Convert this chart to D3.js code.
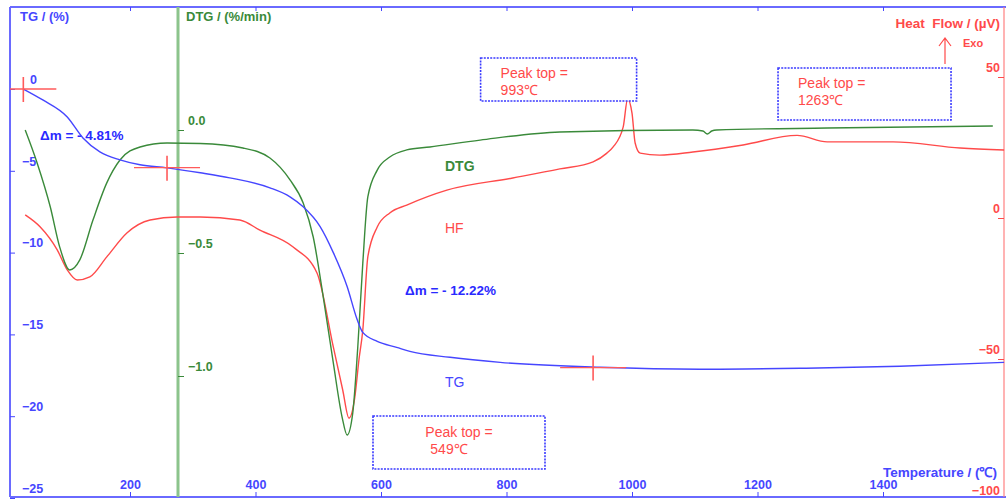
<!DOCTYPE html>
<html>
<head>
<meta charset="utf-8">
<script src="https://cdn.jsdelivr.net/npm/d3@7"></script>
<style>
  body { margin: 0; background: #fff; }
  svg { display: block; font-family: "Liberation Sans", Arial, sans-serif; }
</style>
</head>
<body>
<div id="chart"></div>
<script>
// data: [temperature degC, value]
var tgData = [
  [30, 0], [61, -0.67], [100, -1.71], [125, -2.99], [152, -3.84], [184, -4.33],
  [216, -4.63], [259, -4.82], [312, -5.12], [359, -5.43], [423, -6.04], [455, -6.59],
  [476, -7.2], [503, -8.41], [524, -10.0], [546, -12.07], [562, -14.09], [571, -14.88],
  [594, -15.43], [625, -15.79], [646, -16.04], [710, -16.4], [790, -16.71], [949, -17.01],
  [1108, -17.13], [1268, -17.07], [1427, -16.95], [1593, -16.71]
];
var dtgData = [
  [33, 0.0], [52, -0.134], [73, -0.313], [88, -0.476], [104, -0.569], [120, -0.528],
  [141, -0.366], [163, -0.215], [184, -0.122], [216, -0.069], [259, -0.053], [312, -0.055],
  [380, -0.073], [423, -0.114], [455, -0.203], [476, -0.297], [492, -0.435], [508, -0.679],
  [524, -0.947], [538, -1.167], [546, -1.24], [555, -1.15], [563, -0.882], [571, -0.541],
  [579, -0.272], [594, -0.163], [614, -0.11], [641, -0.081], [678, -0.069], [758, -0.041],
  [885, -0.008], [1097, 0.0], [1113, -0.004], [1120, -0.016], [1127, -0.004], [1135, 0.0],
  [1311, 0.008], [1575, 0.016]
];
var hfData = [
  [33, 1.1], [57, -3.2], [84, -11.3], [100, -18.4], [116, -22.0], [136, -20.9],
  [163, -13.8], [195, -5.3], [232, -0.7], [275, 0.35], [312, 0.35], [375, -0.7],
  [407, -4.3], [460, -10.3], [498, -19.5], [524, -45.7], [539, -61.0], [549, -71.0],
  [558, -64.0], [565, -50.0], [571, -39.7], [579, -13.8], [594, -3.2], [614, 1.8],
  [641, 4.6], [705, 9.9], [810, 14.2], [885, 17.4], [938, 19.9], [960, 23.0],
  [970, 25.2], [986, 32.3], [993, 42.2], [1000, 37.2], [1005, 26.6], [1013, 23.0],
  [1044, 22.3], [1097, 23.4], [1177, 25.9], [1263, 29.3], [1311, 27.0], [1416, 27.0],
  [1523, 24.8], [1593, 24.1]
];

var tempTicks = [200, 400, 600, 800, 1000, 1200, 1400];
var tgTicks = [0, -5, -10, -15, -20, -25];
var dtgTicks = [0, -0.5, -1.0];
var hfTicks = [50, 0, -50, -100];

// crosshair markers on TG curve and the mass loss labels
var tgMarks = [[30, 0], [259, -4.81], [938, -17.03]];
var massLoss = ["\u0394m = - 4.81%", "\u0394m = - 12.22%"];
var peakTemps = [549, 993, 1263];

var W = 1006, H = 500;
var leftX = 10, topY = 7, rightX = 1004, bottomY = 497;
var dtgAxisX = 178;

var blue = "#4646ff", green = "#3a8a3a", red = "#ff4a4a";

var svg = d3.select("#chart").append("svg")
  .attr("width", W).attr("height", H);

var x = d3.scaleLinear().domain([0, 1600]).range([4.5, 1008.5]);
var yTG = d3.scaleLinear().domain([0, -25]).range([89, 498]);
var yDTG = d3.scaleLinear().domain([0, -1]).range([130, 376]);
var yHF = d3.scaleLinear().domain([50, -100]).range([77, 500]);

svg.append("defs").append("clipPath").attr("id", "plot")
  .append("rect").attr("x", leftX).attr("y", topY)
  .attr("width", rightX - leftX).attr("height", bottomY - topY);

// frame
svg.append("line").attr("x1", leftX).attr("x2", W).attr("y1", topY).attr("y2", topY)
  .attr("stroke", "#6a6aff").attr("stroke-width", 2);
svg.append("line").attr("x1", leftX).attr("x2", W).attr("y1", bottomY).attr("y2", bottomY)
  .attr("stroke", "#6a6aff").attr("stroke-width", 2);
svg.append("line").attr("x1", leftX).attr("x2", leftX).attr("y1", topY).attr("y2", bottomY)
  .attr("stroke", "#6a6aff").attr("stroke-width", 2);
svg.append("line").attr("x1", rightX).attr("x2", rightX).attr("y1", topY).attr("y2", bottomY)
  .attr("stroke", "#ff8080").attr("stroke-width", 1.2);
svg.append("line").attr("x1", dtgAxisX).attr("x2", dtgAxisX).attr("y1", topY).attr("y2", bottomY)
  .attr("stroke", "#8cc48c").attr("stroke-width", 3);

function styleAxis(g, color, dy) {
  g.select(".domain").remove();
  g.selectAll("line").attr("stroke", color).attr("stroke-width", 1);
  g.selectAll("text").attr("fill", color).attr("font-size", 12.5)
    .attr("font-weight", "bold").attr("dy", dy);
}

// bottom temperature axis
svg.append("g").attr("transform", "translate(0," + bottomY + ")")
  .call(d3.axisTop(x).tickValues(tempTicks).tickSize(5).tickPadding(3)
    .tickFormat(d3.format("d")))
  .call(styleAxis, blue, "0em");
// top ticks
svg.append("g").attr("transform", "translate(0," + topY + ")")
  .call(d3.axisBottom(x).tickValues(tempTicks).tickSize(4).tickFormat(""))
  .call(styleAxis, blue, "0em");

// TG axis
var tgAxis = svg.append("g").attr("transform", "translate(" + leftX + ",0)")
  .call(d3.axisRight(yTG).tickValues(tgTicks).tickSize(5).tickPadding(7))
  .call(styleAxis, blue, "-0.45em");
tgAxis.selectAll(".tick").filter(function (d) { return d === 0; })
  .select("text").attr("x", 20);

// DTG axis
svg.append("g").attr("transform", "translate(" + dtgAxisX + ",0)")
  .call(d3.axisRight(yDTG).tickValues(dtgTicks).tickSize(6).tickPadding(4)
    .tickFormat(d3.format(".1f")))
  .call(styleAxis, green, "-0.45em");

// HF axis
svg.append("g").attr("transform", "translate(" + rightX + ",0)")
  .call(d3.axisLeft(yHF).tickValues(hfTicks).tickSize(6).tickPadding(-2))
  .call(styleAxis, red, "-0.45em");

// curves
function drawLine(data, yScale, color) {
  svg.append("path").datum(data)
    .attr("fill", "none").attr("stroke", color).attr("stroke-width", 1.4)
    .attr("d", d3.line().curve(d3.curveMonotoneX)
      .x(function (d) { return x(d[0]); })
      .y(function (d) { return yScale(d[1]); }));
}
drawLine(hfData, yHF, red);
drawLine(dtgData, yDTG, green);
drawLine(tgData, yTG, blue);

// crosshairs
var marks = svg.append("g").attr("clip-path", "url(#plot)");
tgMarks.forEach(function (m) {
  var cx = x(m[0]), cy = yTG(m[1]);
  marks.append("line").attr("x1", cx - 33).attr("x2", cx + 33).attr("y1", cy).attr("y2", cy)
    .attr("stroke", "#ff5a5a").attr("stroke-width", 1.3);
  marks.append("line").attr("x1", cx).attr("x2", cx).attr("y1", cy - 12).attr("y2", cy + 13)
    .attr("stroke", "#ff5a5a").attr("stroke-width", 1.6);
});

// axis titles
svg.append("text").attr("x", 20).attr("y", 21).text("TG / (%)")
  .attr("fill", blue).attr("font-size", 13).attr("font-weight", "bold");
svg.append("text").attr("x", 186).attr("y", 21).text("DTG / (%/min)")
  .attr("fill", green).attr("font-size", 13).attr("font-weight", "bold");
svg.append("text").attr("x", 1000).attr("y", 28).attr("text-anchor", "end")
  .text("Heat  Flow / (\u00b5V)").attr("xml:space", "preserve")
  .attr("fill", red).attr("font-size", 13.5).attr("font-weight", "bold");
svg.append("text").attr("x", 963).attr("y", 47).text("Exo")
  .attr("fill", red).attr("font-size", 11).attr("font-weight", "bold");
svg.append("path").attr("d", "M945,64 L945,38 M939,46 L945,38 L951,46")
  .attr("fill", "none").attr("stroke", red).attr("stroke-width", 1.2);
svg.append("text").attr("x", 997).attr("y", 477).attr("text-anchor", "end")
  .text("Temperature / (\u2103)")
  .attr("fill", blue).attr("font-size", 13.5).attr("font-weight", "bold");

// curve labels
svg.append("text").attr("x", 445).attr("y", 171).text("DTG")
  .attr("fill", green).attr("font-size", 14).attr("font-weight", "bold");
svg.append("text").attr("x", 445).attr("y", 233).text("HF")
  .attr("fill", red).attr("font-size", 14);
svg.append("text").attr("x", 445).attr("y", 387).text("TG")
  .attr("fill", blue).attr("font-size", 14);
svg.append("text").attr("x", 40).attr("y", 140).text(massLoss[0])
  .attr("fill", "#2a2aff").attr("font-size", 13.5).attr("font-weight", "bold");
svg.append("text").attr("x", 405).attr("y", 295).text(massLoss[1])
  .attr("fill", "#2a2aff").attr("font-size", 13.5).attr("font-weight", "bold");

// peak annotation boxes
var boxes = [
  { t: peakTemps[0], x0: x(peakTemps[0]) + 24, y0: 416, w: 172, h: 53, anchor: "middle" },
  { t: peakTemps[1], x0: x(peakTemps[1]) - 147, y0: 58, w: 156, h: 43, anchor: "start" },
  { t: peakTemps[2], x0: x(peakTemps[2]) - 19, y0: 68, w: 173, h: 52, anchor: "start" }
];
boxes.forEach(function (b) {
  svg.append("rect").attr("x", b.x0).attr("y", b.y0).attr("width", b.w).attr("height", b.h)
    .attr("fill", "#fff").attr("stroke", "#3a3aff").attr("stroke-width", 1.6)
    .attr("stroke-dasharray", "2,1.2");
  var tx = b.anchor === "middle" ? b.x0 + b.w / 2 : b.x0 + 20;
  var t = svg.append("text").attr("fill", red).attr("font-size", 14)
    .attr("text-anchor", b.anchor);
  var ty = b.anchor === "middle" ? b.y0 + 21 : b.y0 + 20;
  t.append("tspan").attr("x", tx).attr("y", ty).text("Peak top =");
  t.append("tspan").attr("x", b.anchor === "middle" ? tx - 10 : tx).attr("y", ty + 17).text(b.t + "\u2103");
});
</script>
</body>
</html>
